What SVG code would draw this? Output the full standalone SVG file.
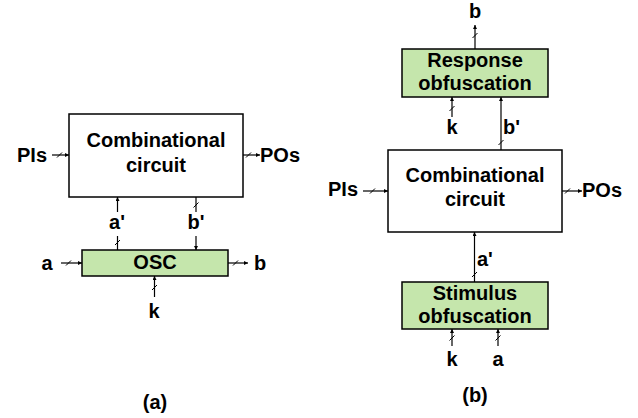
<svg xmlns="http://www.w3.org/2000/svg" width="638" height="418" viewBox="0 0 638 418">
<style>
text{font-family:"Liberation Sans",Arial,sans-serif;font-weight:bold;font-size:20px;fill:#000;text-anchor:middle}
.box{fill:#fff;stroke:#000;stroke-width:1.5}
.grn{fill:#c5e6ac;stroke:#000;stroke-width:1.5}
.w{stroke:#000;stroke-width:1.2;fill:none}
.s{stroke:#000;stroke-width:1;fill:none}
</style>
<defs>
<marker id="ah" viewBox="0 0 6 6" refX="6" refY="3" markerWidth="4" markerHeight="4" orient="auto" markerUnits="userSpaceOnUse">
<path d="M0,0 L6,3 L0,6 z" fill="#000"/>
</marker>
</defs>
<rect width="638" height="418" fill="#fff"/>

<g id="comb-a">
<rect class="box" x="69" y="114" width="174" height="83"/>
<text x="156" y="147">Combinational</text>
<text x="156" y="172">circuit</text>
</g>
<g id="osc">
<rect class="grn" x="82" y="250" width="146" height="26"/>
<text x="155" y="269">OSC</text>
</g>
<g id="labels-a">
<text x="32" y="162">PIs</text>
<text x="280" y="162">POs</text>
<text x="117" y="229">a'</text>
<text x="196" y="229">b'</text>
<text x="47" y="270">a</text>
<text x="260" y="270">b</text>
<text x="154" y="318">k</text>
<text x="155" y="409">(a)</text>
</g>

<g id="resp">
<rect class="grn" x="402" y="49" width="146" height="48"/>
<text x="475" y="67">Response</text>
<text x="475" y="90">obfuscation</text>
</g>
<g id="comb-b">
<rect class="box" x="388" y="150" width="174" height="82"/>
<text x="475" y="182">Combinational</text>
<text x="475" y="206">circuit</text>
</g>
<g id="stim">
<rect class="grn" x="402" y="282" width="146" height="47"/>
<text x="475" y="300">Stimulus</text>
<text x="475" y="323">obfuscation</text>
</g>
<g id="labels-b">
<text x="475" y="18">b</text>
<text x="452" y="134">k</text>
<text x="503" y="134" style="text-anchor:start">b'</text>
<text x="343" y="196">PIs</text>
<text x="602" y="197">POs</text>
<text x="477" y="266" style="text-anchor:start">a'</text>
<text x="452" y="366">k</text>
<text x="498" y="366">a</text>
<text x="475" y="402">(b)</text>
</g>

<g id="connectors">
<!-- panel a -->
<line class="w" x1="52" y1="155" x2="69" y2="155" marker-end="url(#ah)"/>
<line class="s" x1="57" y1="157.5" x2="62" y2="152.5"/>
<line class="w" x1="243" y1="155" x2="260" y2="155" marker-end="url(#ah)"/>
<line class="s" x1="246" y1="157.5" x2="251" y2="152.5"/>
<line class="w" x1="117.5" y1="212" x2="117.5" y2="197" marker-end="url(#ah)"/>
<line class="w" x1="117.5" y1="250" x2="117.5" y2="236"/>
<line class="s" x1="115" y1="245" x2="120" y2="240"/>
<line class="w" x1="196" y1="197" x2="196" y2="212"/>
<line class="s" x1="193.5" y1="207.5" x2="198.5" y2="202.5"/>
<line class="w" x1="196" y1="236" x2="196" y2="250" marker-end="url(#ah)"/>
<line class="w" x1="61" y1="263" x2="82" y2="263" marker-end="url(#ah)"/>
<line class="s" x1="66" y1="265.5" x2="71" y2="260.5"/>
<line class="w" x1="228" y1="263" x2="248" y2="263" marker-end="url(#ah)"/>
<line class="s" x1="233" y1="265.5" x2="238" y2="260.5"/>
<line class="w" x1="154.5" y1="297" x2="154.5" y2="276" marker-end="url(#ah)"/>
<line class="s" x1="152" y1="290" x2="157" y2="285"/>
<!-- panel b -->
<line class="w" x1="475" y1="49" x2="475" y2="25" marker-end="url(#ah)"/>
<line class="s" x1="472.5" y1="38" x2="477.5" y2="33"/>
<line class="w" x1="452" y1="117" x2="452" y2="97" marker-end="url(#ah)"/>
<line class="s" x1="449.5" y1="111" x2="454.5" y2="106"/>
<line class="w" x1="501" y1="150" x2="501" y2="97" marker-end="url(#ah)"/>
<line class="s" x1="498.5" y1="145" x2="503.5" y2="140"/>
<line class="w" x1="363" y1="191" x2="388" y2="191" marker-end="url(#ah)"/>
<line class="s" x1="370" y1="193.5" x2="375" y2="188.5"/>
<line class="w" x1="562" y1="191" x2="582" y2="191" marker-end="url(#ah)"/>
<line class="s" x1="565" y1="193.5" x2="570" y2="188.5"/>
<line class="w" x1="474.5" y1="282" x2="474.5" y2="232" marker-end="url(#ah)"/>
<line class="s" x1="472" y1="277" x2="477" y2="272"/>
<line class="w" x1="452" y1="346" x2="452" y2="329" marker-end="url(#ah)"/>
<line class="s" x1="449.5" y1="340.5" x2="454.5" y2="335.5"/>
<line class="w" x1="498" y1="346" x2="498" y2="329" marker-end="url(#ah)"/>
<line class="s" x1="495.5" y1="340.5" x2="500.5" y2="335.5"/>
</g>
</svg>
